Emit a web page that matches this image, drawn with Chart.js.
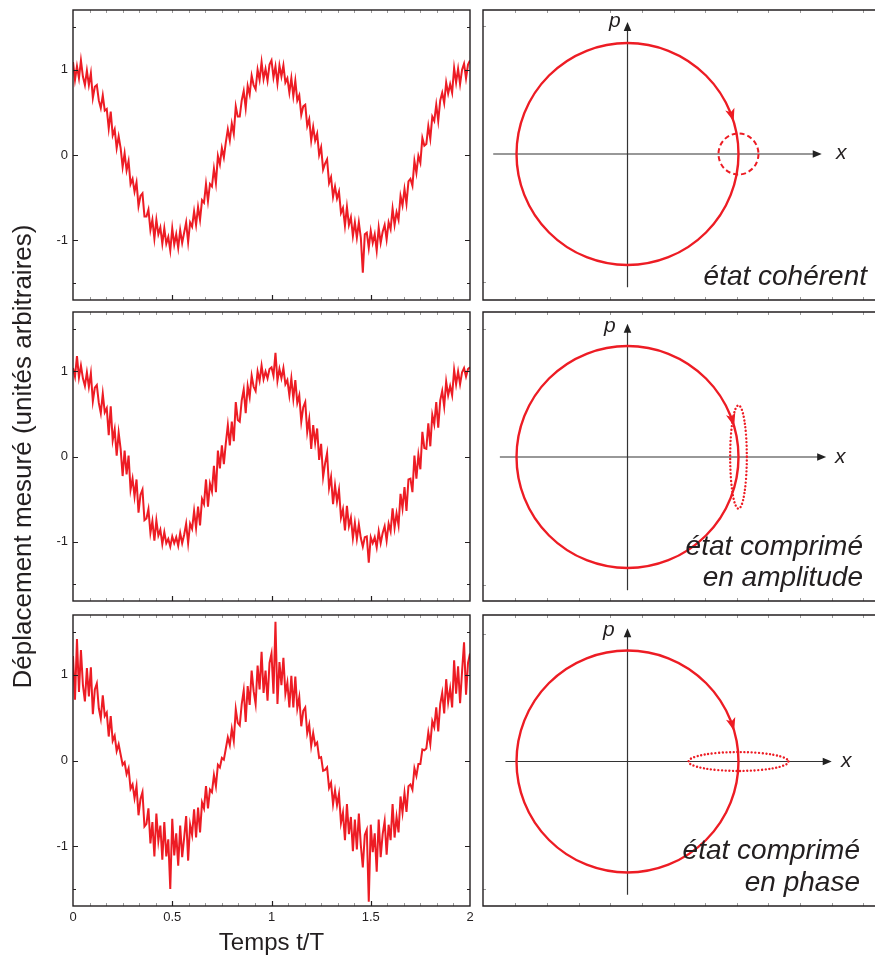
<!DOCTYPE html>
<html>
<head>
<meta charset="utf-8">
<script src="https://cdn.jsdelivr.net/npm/chart.js@4.4.1/dist/chart.umd.min.js"></script>
<style>
  html, body { margin: 0; padding: 0; background: #fff; overflow: hidden; }
  #page { position: relative; width: 875px; height: 958px; overflow: hidden; }
  canvas { position: absolute; }
</style>
</head>
<body>
<div id="page"></div>
<script>
// ---- data ----
const timeStep = 0.01; // sampling of the traces, in units of t/T
const timeTicks = [0, 0.5, 1, 1.5, 2];
const signalTicks = [-1, 0, 1];
const signalMinorTicks = [-1.5, 1.5];

const coherentSignal = [
  1.09,.88,1.04,.90,1.11,.92,.82,.99,.82,.96,.67,.80,.82,.64,.55,.70,.52,.54,.31,.51,
  .23,.30,.08,.22,.08,-.14,.02,-.18,-.07,-.34,-.28,-.43,-.32,-.60,-.48,-.45,-.72,-.72,-.64,-.88,
  -.76,-.98,-.76,-.93,-.85,-1.04,-.86,-1.04,-.96,-1.12,-.86,-1.05,-.93,-1.09,-.88,-1.03,-.91,-.79,-1.02,-.79,
  -.84,-.66,-.82,-.61,-.76,-.53,-.56,-.34,-.54,-.34,-.37,-.16,-.33,-.01,-.11,.08,-.03,.15,.30,.17,
  .37,.25,.57,.45,.45,.64,.75,.55,.81,.71,.93,.82,.77,1.00,.88,1.09,.89,1.01,.87,1.06,
  1.11,.91,1.04,.84,1.05,.92,1.05,.85,.90,.73,.90,.69,.87,.64,.70,.47,.57,.59,.34,.42,
  .17,.33,.17,.25,0,.09,-.17,-.10,-.05,-.33,-.26,-.49,-.37,-.51,-.43,-.68,-.62,-.83,-.61,-.82,
  -.73,-.95,-.79,-.97,-.79,-.97,-1.38,-.93,-.91,-1.09,-.89,-1.03,-.93,-1.12,-.85,-1.03,-.90,-.82,-.99,-.79,
  -.87,-.63,-.82,-.67,-.76,-.48,-.59,-.40,-.57,-.31,-.28,-.36,-.07,-.21,-.01,-.09,.20,.11,.13,.34,
  .19,.45,.40,.59,.40,.64,.73,.61,.85,.72,.83,.73,1.02,.85,1.01,.83,1.00,1.07,.90,1.06,
  1.11
];
const amplitudeSqueezedSignal = [
  1.04,.94,1.18,.93,1.07,.92,.83,.99,.82,.98,.65,.81,.84,.63,.51,.74,.52,.57,.25,.59,
  .19,.32,.01,.28,.09,-.23,.07,-.21,.01,-.39,-.26,-.47,-.27,-.66,-.45,-.39,-.75,-.73,-.62,-.90,
  -.76,-.99,-.75,-.93,-.86,-1.03,-.89,-1.02,-.97,-1.06,-.94,-1.02,-.95,-1.05,-.90,-1.02,-.92,-.79,-1.02,-.79,
  -.85,-.64,-.84,-.59,-.81,-.50,-.56,-.27,-.59,-.32,-.41,-.11,-.42,.07,-.14,.13,-.09,.16,.37,.13,
  .41,.18,.64,.43,.41,.66,.79,.51,.83,.70,.95,.82,.77,1.00,.89,1.07,.91,1.00,.92,1.03,
  1.05,.95,1.22,.89,1.03,.92,1.04,.85,.90,.72,.92,.68,.90,.63,.72,.41,.58,.64,.29,.44,
  .09,.37,.16,.33,-.04,.15,-.24,-.08,.04,-.37,-.24,-.56,-.34,-.53,-.39,-.72,-.62,-.87,-.58,-.82,
  -.72,-.96,-.78,-.97,-.80,-.96,-1.06,-.95,-.94,-1.25,-.95,-1.02,-.95,-1.07,-.88,-1.02,-.90,-.82,-.99,-.79,
  -.88,-.61,-.84,-.67,-.81,-.44,-.61,-.36,-.64,-.27,-.26,-.42,.01,-.26,.02,-.15,.29,.10,.09,.39,
  .12,.49,.38,.64,.34,.66,.77,.59,.88,.72,.83,.72,1.02,.85,1.00,.85,.99,1.04,.94,1.03,
  1.05
];
const phaseSqueezedSignal = [
  1.22,.71,1.42,.80,1.29,.88,.69,1.08,.75,1.09,.54,.83,.90,.61,.49,.76,.52,.56,.28,.52,
  .23,.29,.11,.19,.07,-.05,-.02,-.16,-.09,-.33,-.28,-.44,-.30,-.64,-.45,-.37,-.77,-.74,-.56,-.97,
  -.72,-1.12,-.62,-.94,-.76,-1.16,-.72,-1.12,-.92,-1.50,-.68,-1.11,-.85,-1.23,-.76,-1.13,-.90,-.65,-1.17,-.75,
  -.87,-.57,-.90,-.55,-.84,-.49,-.56,-.30,-.56,-.34,-.37,-.17,-.30,-.05,-.08,.03,.01,.14,.27,.18,
  .37,.23,.60,.44,.41,.66,.82,.45,.87,.65,1.05,.81,.66,1.11,.83,1.27,.79,1.05,.70,1.14,
  1.25,.78,1.62,.66,1.15,.88,1.20,.78,.91,.62,.99,.62,.98,.61,.74,.40,.58,.62,.32,.42,
  .17,.32,.18,.21,.03,.04,-.12,-.11,-.08,-.32,-.26,-.51,-.35,-.52,-.39,-.73,-.61,-.93,-.51,-.86,
  -.66,-1.06,-.69,-1.04,-.62,-.99,-1.25,-.87,-.81,-1.65,-.75,-1.07,-.85,-1.30,-.69,-1.13,-.86,-.71,-1.10,-.75,
  -.93,-.51,-.90,-.66,-.84,-.42,-.61,-.38,-.60,-.30,-.28,-.34,-.09,-.18,-.04,-.04,.13,.12,.14,.33,
  .19,.46,.39,.62,.34,.66,.79,.55,.95,.68,.84,.62,1.17,.78,1.10,.67,1.04,1.38,.77,1.14,
  1.25
];

// phase-space panels
const stateNames = [
  ['état cohérent'],
  ['état comprimé', 'en amplitude'],
  ['état comprimé', 'en phase']
];
const orbitRadius = [1, 1, 1];
const noiseCenterX = [1, 1, 1];
const noiseRadiusX = [0.18, 0.075, 0.45];
const noiseRadiusY = [0.185, 0.465, 0.085];
const arrowAngle = [17, 16, 16]; // degrees above the x axis

// ---- layout / style ----
const RED = '#ed1c24';
const INK = '#231f20';
const FONT = "'Liberation Sans', Arial, Helvetica, sans-serif";

const rows = [
  { top: 10, bottom: 300 },
  { top: 312, bottom: 601 },
  { top: 615, bottom: 906 }
];
// canvas extents of the three trace charts (the middle one is tall so the long y title fits)
const signalCanvas = [
  { top: -10, height: 330 },
  { top: 150, height: 610 },
  { top: 595, height: 363 }
];

const phaseLayout = [
  { y: [-1.315, 1.297], xAxis: [-1.21, 1.75], pAxis: [-1.2, 1.19], xLabel: [836, 159], pLabel: [609, 27], textRight: 867, textBase: [285], noiseDash: [5, 3] },
  { y: [-1.297, 1.306], xAxis: [-1.15, 1.79], pAxis: [-1.2, 1.2], xLabel: [835, 463], pLabel: [604, 332], textRight: 863, textBase: [555, 586], noiseDash: [0.01, 3.6] },
  { y: [-1.302, 1.32], xAxis: [-1.1, 1.84], pAxis: [-1.2, 1.2], xLabel: [841, 767], pLabel: [603, 636], textRight: 860, textBase: [859, 891], noiseDash: [0.01, 3.6] }
];

Chart.defaults.font.family = FONT;
Chart.defaults.color = INK;
Chart.defaults.animation = false;

const page = document.getElementById('page');

function addCanvas(left, top, width, height) {
  const c = document.createElement('canvas');
  c.width = width;
  c.height = height;
  c.style.left = left + 'px';
  c.style.top = top + 'px';
  c.style.width = width + 'px';
  c.style.height = height + 'px';
  page.appendChild(c);
  return c;
}

// frame + inward ticks of the time traces
const signalFrame = {
  id: 'signalFrame',
  afterDatasetsDraw(chart) {
    const { ctx, chartArea: a, scales: { x, y } } = chart;
    ctx.save();
    ctx.lineWidth = 1;
    ctx.strokeStyle = '#9a9a9a';
    ctx.beginPath();
    for (let k = 1; k < 24; k++) {
      const px = Math.round(x.getPixelForValue(k / 12)) + 0.5;
      ctx.moveTo(px, a.top); ctx.lineTo(px, a.top + 3);
      ctx.moveTo(px, a.bottom); ctx.lineTo(px, a.bottom - 3);
    }
    ctx.stroke();

    ctx.strokeStyle = INK;
    ctx.lineWidth = 1.2;
    ctx.beginPath();
    timeTicks.slice(1, -1).forEach(t => {
      const px = Math.round(x.getPixelForValue(t)) + 0.5;
      ctx.moveTo(px, a.bottom); ctx.lineTo(px, a.bottom - 5);
    });
    signalTicks.forEach(v => {
      const py = Math.round(y.getPixelForValue(v)) + 0.5;
      ctx.moveTo(a.left, py); ctx.lineTo(a.left + 5, py);
      ctx.moveTo(a.right, py); ctx.lineTo(a.right - 5, py);
    });
    signalMinorTicks.forEach(v => {
      const py = Math.round(y.getPixelForValue(v)) + 0.5;
      ctx.moveTo(a.left, py); ctx.lineTo(a.left + 3, py);
      ctx.moveTo(a.right, py); ctx.lineTo(a.right - 3, py);
    });
    ctx.stroke();

    ctx.lineWidth = 1.4;
    ctx.strokeRect(a.left, a.top, a.right - a.left, a.bottom - a.top);
    ctx.restore();
  }
};

function makeSignalChart(r, values, withTitleY, withAxisX) {
  const row = rows[r];
  const cv = signalCanvas[r];
  const canvas = addCanvas(0, cv.top, 478, cv.height);
  return new Chart(canvas, {
    type: 'line',
    data: {
      datasets: [{
        data: values.map((v, i) => ({ x: i * timeStep, y: v })),
        borderColor: RED,
        borderWidth: 2,
        pointRadius: 0,
        tension: 0
      }]
    },
    options: {
      responsive: false,
      layout: {
        padding: {
          left: 0,
          right: 8,
          top: row.top - cv.top,
          bottom: withAxisX ? 0 : cv.top + cv.height - row.bottom
        }
      },
      plugins: { legend: { display: false }, tooltip: { enabled: false } },
      scales: {
        x: {
          type: 'linear',
          min: 0,
          max: 2,
          display: withAxisX,
          afterBuildTicks: s => { s.ticks = timeTicks.map(v => ({ value: v })); },
          afterFit: s => { s.height = withAxisX ? 52 : 0; },
          grid: { display: false, drawTicks: false },
          border: { display: false },
          ticks: {
            padding: 4,
            maxRotation: 0,
            font: { size: 13 },
            color: INK,
            callback: v => String(v)
          },
          title: {
            display: true,
            text: 'Temps t/T',
            font: { size: 24 },
            color: INK,
            padding: { top: 0, bottom: 0 }
          }
        },
        y: {
          min: -1.7,
          max: 1.7,
          afterBuildTicks: s => { s.ticks = signalTicks.map(v => ({ value: v })); },
          afterFit: s => { s.width = 73; },
          grid: { display: false, drawTicks: false },
          border: { display: false },
          ticks: { padding: 5, font: { size: 13 }, color: INK, callback: v => String(v) },
          title: {
            display: withTitleY,
            text: 'Déplacement mesuré (unités arbitraires)',
            font: { size: 26 },
            color: INK,
            padding: { top: 8, bottom: 0 }
          }
        }
      }
    },
    plugins: [signalFrame]
  });
}

// phase-space sketch drawn through the chart's scales
const phaseDiagram = {
  id: 'phaseDiagram',
  afterDraw(chart, args, opts) {
    const i = opts.index;
    const L = phaseLayout[i];
    const { ctx, chartArea: a, scales: { x, y } } = chart;
    const ox = opts.left, oy = opts.top;
    ctx.save();

    // frame (right side runs off the page)
    ctx.strokeStyle = '#9a9a9a';
    ctx.lineWidth = 1;
    ctx.beginPath();
    for (let v = -1.01; v < x.max; v += 0.285) {
      const px = Math.round(x.getPixelForValue(v)) + 0.5;
      ctx.moveTo(px, a.top); ctx.lineTo(px, a.top + 3);
      ctx.moveTo(px, a.bottom); ctx.lineTo(px, a.bottom - 3);
    }
    [-1.15, 1.15].forEach(v => {
      const py = Math.round(y.getPixelForValue(v)) + 0.5;
      ctx.moveTo(a.left, py); ctx.lineTo(a.left + 3, py);
    });
    ctx.stroke();
    ctx.strokeStyle = INK;
    ctx.lineWidth = 1.4;
    ctx.beginPath();
    ctx.moveTo(a.right + 5, a.top);
    ctx.lineTo(a.left, a.top);
    ctx.lineTo(a.left, a.bottom);
    ctx.lineTo(a.right + 5, a.bottom);
    ctx.stroke();

    // x and p axes with arrows
    const xc = x.getPixelForValue(0);
    const yc = y.getPixelForValue(0);
    const x0 = x.getPixelForValue(L.xAxis[0]);
    const x1 = x.getPixelForValue(L.xAxis[1]);
    const y0 = y.getPixelForValue(L.pAxis[0]);
    const y1 = y.getPixelForValue(L.pAxis[1]);
    ctx.strokeStyle = '#333';
    ctx.fillStyle = '#222';
    ctx.lineWidth = 1.2;
    ctx.beginPath();
    ctx.moveTo(x0, yc); ctx.lineTo(x1 - 6, yc);
    ctx.moveTo(xc, y0); ctx.lineTo(xc, y1 + 6);
    ctx.stroke();
    ctx.beginPath();
    ctx.moveTo(x1, yc); ctx.lineTo(x1 - 9, yc - 3.8); ctx.lineTo(x1 - 9, yc + 3.8); ctx.closePath();
    ctx.moveTo(xc, y1); ctx.lineTo(xc - 3.8, y1 + 9); ctx.lineTo(xc + 3.8, y1 + 9); ctx.closePath();
    ctx.fill();

    ctx.fillStyle = INK;
    ctx.font = 'italic 21px ' + FONT;
    ctx.textAlign = 'left';
    ctx.textBaseline = 'alphabetic';
    ctx.fillText('x', L.xLabel[0] - ox, L.xLabel[1] - oy);
    ctx.fillText('p', L.pLabel[0] - ox, L.pLabel[1] - oy);

    // orbit
    const rx = x.getPixelForValue(orbitRadius[i]) - xc;
    const ry = yc - y.getPixelForValue(orbitRadius[i]);
    ctx.strokeStyle = RED;
    ctx.lineWidth = 2.4;
    ctx.beginPath();
    ctx.ellipse(xc, yc, rx, ry, 0, 0, Math.PI * 2);
    ctx.stroke();

    // arrow on the orbit (clockwise)
    const th = arrowAngle[i] * Math.PI / 180;
    const tx = x.getPixelForValue(orbitRadius[i] * Math.cos(th));
    const ty = y.getPixelForValue(orbitRadius[i] * Math.sin(th));
    const dx = Math.sin(th), dy = Math.cos(th);
    const len = 13, w = 4.8;
    ctx.fillStyle = RED;
    ctx.beginPath();
    ctx.moveTo(tx, ty);
    ctx.lineTo(tx - dx * len - dy * w, ty - dy * len + dx * w);
    ctx.lineTo(tx - dx * len * 0.75, ty - dy * len * 0.75);
    ctx.lineTo(tx - dx * len + dy * w, ty - dy * len - dx * w);
    ctx.closePath();
    ctx.fill();

    // noise contour
    const ncx = x.getPixelForValue(noiseCenterX[i]);
    const nrx = x.getPixelForValue(noiseCenterX[i] + noiseRadiusX[i]) - ncx;
    const nry = yc - y.getPixelForValue(noiseRadiusY[i]);
    ctx.setLineDash(L.noiseDash);
    ctx.lineCap = i === 0 ? 'butt' : 'round';
    ctx.lineWidth = i === 0 ? 2 : 2.4;
    ctx.beginPath();
    ctx.ellipse(ncx, yc, nrx, nry, 0, 0, Math.PI * 2);
    ctx.stroke();
    ctx.setLineDash([]);

    // state name
    ctx.fillStyle = INK;
    ctx.font = 'italic 28px ' + FONT;
    ctx.textAlign = 'right';
    stateNames[i].forEach((line, k) => {
      ctx.fillText(line, L.textRight - ox, L.textBase[k] - oy);
    });
    ctx.restore();
  }
};

function makePhaseChart(r) {
  const row = rows[r];
  const left = 478, top = row.top - 6;
  const canvas = addCanvas(left, top, 407, row.bottom - row.top + 12);
  return new Chart(canvas, {
    type: 'scatter',
    data: { datasets: [] },
    options: {
      responsive: false,
      layout: { padding: { left: 5, right: 5, top: 6, bottom: 6 } },
      plugins: {
        legend: { display: false },
        tooltip: { enabled: false },
        phaseDiagram: { index: r, left: left, top: top }
      },
      scales: {
        x: { type: 'linear', min: -1.302, max: 2.275, display: false },
        y: { type: 'linear', min: phaseLayout[r].y[0], max: phaseLayout[r].y[1], display: false }
      }
    },
    plugins: [phaseDiagram]
  });
}

makeSignalChart(0, coherentSignal, false, false);
makeSignalChart(1, amplitudeSqueezedSignal, true, false);
makeSignalChart(2, phaseSqueezedSignal, false, true);
makePhaseChart(0);
makePhaseChart(1);
makePhaseChart(2);
</script>
</body>
</html>
